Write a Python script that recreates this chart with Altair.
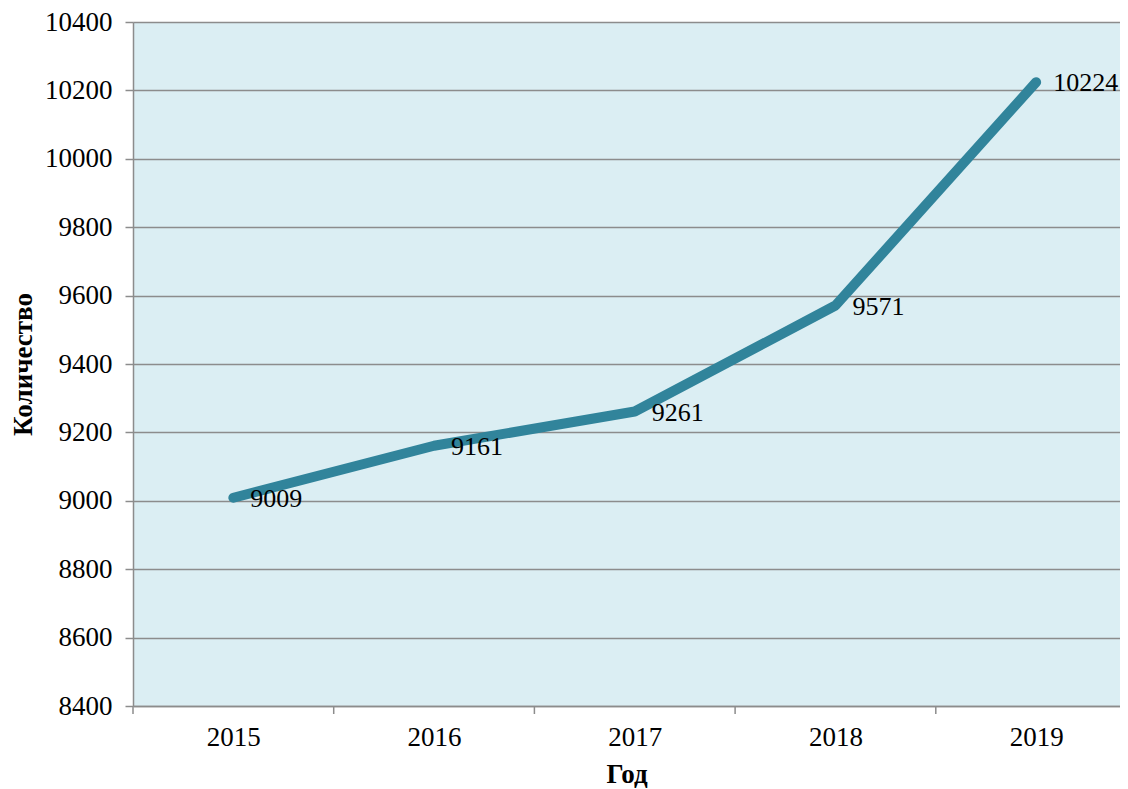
import altair as alt
import pandas as pd

years = [2015, 2016, 2017, 2018, 2019]
values = [9009, 9161, 9261, 9571, 10224]
boundaries = [2014.5, 2015.5, 2016.5, 2017.5, 2018.5]
y_ticks = [8400, 8600, 8800, 9000, 9200, 9400, 9600, 9800, 10000, 10200, 10400]

df = pd.DataFrame({"year": years, "value": values})
bdf = pd.DataFrame({"b": boundaries})

W = 987
H = 684
x_domain = [2014.5, 2014.5 + W / 200.7]

FONT = "Liberation Serif"
GRAY = "#8c8c8c"

xscale = alt.Scale(domain=x_domain, nice=False, zero=False)
yscale = alt.Scale(domain=[8400, 10400], nice=False, zero=False)

base = alt.Chart(df)

line = base.mark_line(color="#31849B", strokeWidth=10, strokeCap="round", strokeJoin="round").encode(
    x=alt.X("year:Q", scale=xscale,
            axis=alt.Axis(values=years, format="d", tickSize=0, grid=False,
                          domainColor=GRAY, domainWidth=1.5,
                          labelFont=FONT, labelFontSize=27, labelColor="black",
                          labelPadding=18, title="Год", titleFont=FONT,
                          titleFontSize=27, titleFontWeight="bold", titleColor="black",
                          titlePadding=11)),
    y=alt.Y("value:Q", scale=yscale,
            axis=alt.Axis(values=y_ticks, format="d", tickSize=8, tickColor=GRAY, tickWidth=1.5,
                          grid=True, gridColor=GRAY, gridWidth=1.5,
                          domainColor=GRAY, domainWidth=1.5,
                          labelFont=FONT, labelFontSize=27, labelColor="black",
                          labelPadding=13, title="Количество", titleFont=FONT,
                          titleFontSize=27, titleFontWeight="bold", titleColor="black",
                          titlePadding=7)),
)

labels = base.mark_text(align="left", baseline="middle", dx=17, dy=1, font=FONT,
                        fontSize=26, color="black").encode(
    x=alt.X("year:Q", scale=xscale),
    y=alt.Y("value:Q", scale=yscale),
    text=alt.Text("value:Q", format="d"),
)

ticks = alt.Chart(bdf).mark_rule(color=GRAY, strokeWidth=1.5).encode(
    x=alt.X("b:Q", scale=xscale),
    y=alt.value(H),
    y2=alt.value(H + 8),
)

chart = alt.layer(line, labels, ticks).properties(
    width=W, height=H,
    autosize=alt.AutoSizeParams(type="none"),
    padding={"left": 125, "top": 14, "right": 0, "bottom": 82},
    view=alt.ViewBackground(fill="#DBEEF3", strokeWidth=0),
).configure(background="white")

chart.save("out.html", embed_options={"renderer": "svg", "actions": False})
